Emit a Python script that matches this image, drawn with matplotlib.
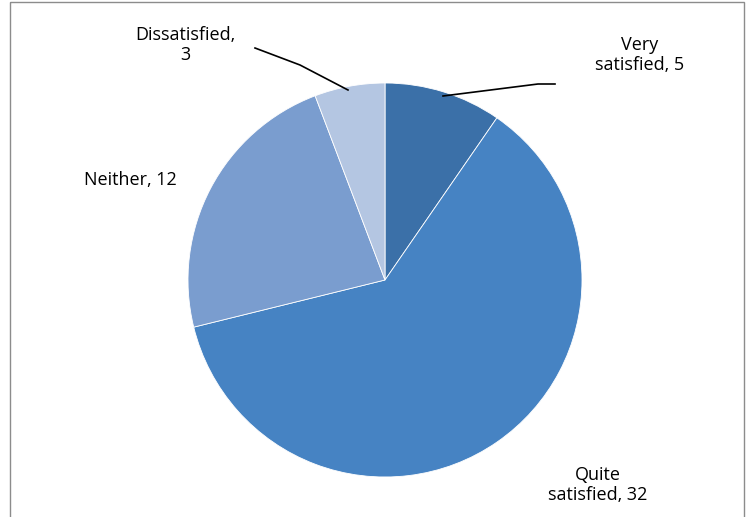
import matplotlib.pyplot as plt
from matplotlib.patches import Rectangle

labels = ['Very satisfied', 'Quite satisfied', 'Neither', 'Dissatisfied']
values = [5, 32, 12, 3]
colors = ['#3b70a8', '#4683c3', '#7a9dcf', '#b4c6e2']

plt.rcParams['font.family'] = ['Open Sans', 'DejaVu Sans']

fig = plt.figure(figsize=(7.47, 5.17), dpi=100)
ax = fig.add_axes([0, 0, 1, 1])

# y axis runs downward (pixel-like), so counterclockwise in data = clockwise on screen
ax.pie(values, colors=colors, startangle=-90, counterclock=True,
       center=(385, 280), radius=197, frame=True,
       wedgeprops={'edgecolor': 'white', 'linewidth': 0.6})
ax.set_xlim(0, 747)
ax.set_ylim(517, 0)
ax.axis('off')

ax.add_patch(Rectangle((10, 2), 734, 530, fill=False, edgecolor='#8c8c8c', lw=1))

fs = 13
ax.text(640, 55, 'Very\nsatisfied, 5', ha='center', va='center', fontsize=fs, linespacing=1.2)
ax.text(598, 485, 'Quite\nsatisfied, 32', ha='center', va='center', fontsize=fs, linespacing=1.2)
ax.text(130, 180, 'Neither, 12', ha='center', va='center', fontsize=fs)
ax.text(185, 45, 'Dissatisfied,\n3', ha='center', va='center', fontsize=fs, linespacing=1.2)

ax.plot([555, 538, 443], [84, 84, 96], color='black', lw=1.2)
ax.plot([255, 300, 348], [48, 65, 90], color='black', lw=1.2)

fig.savefig('out.png', dpi=100)
